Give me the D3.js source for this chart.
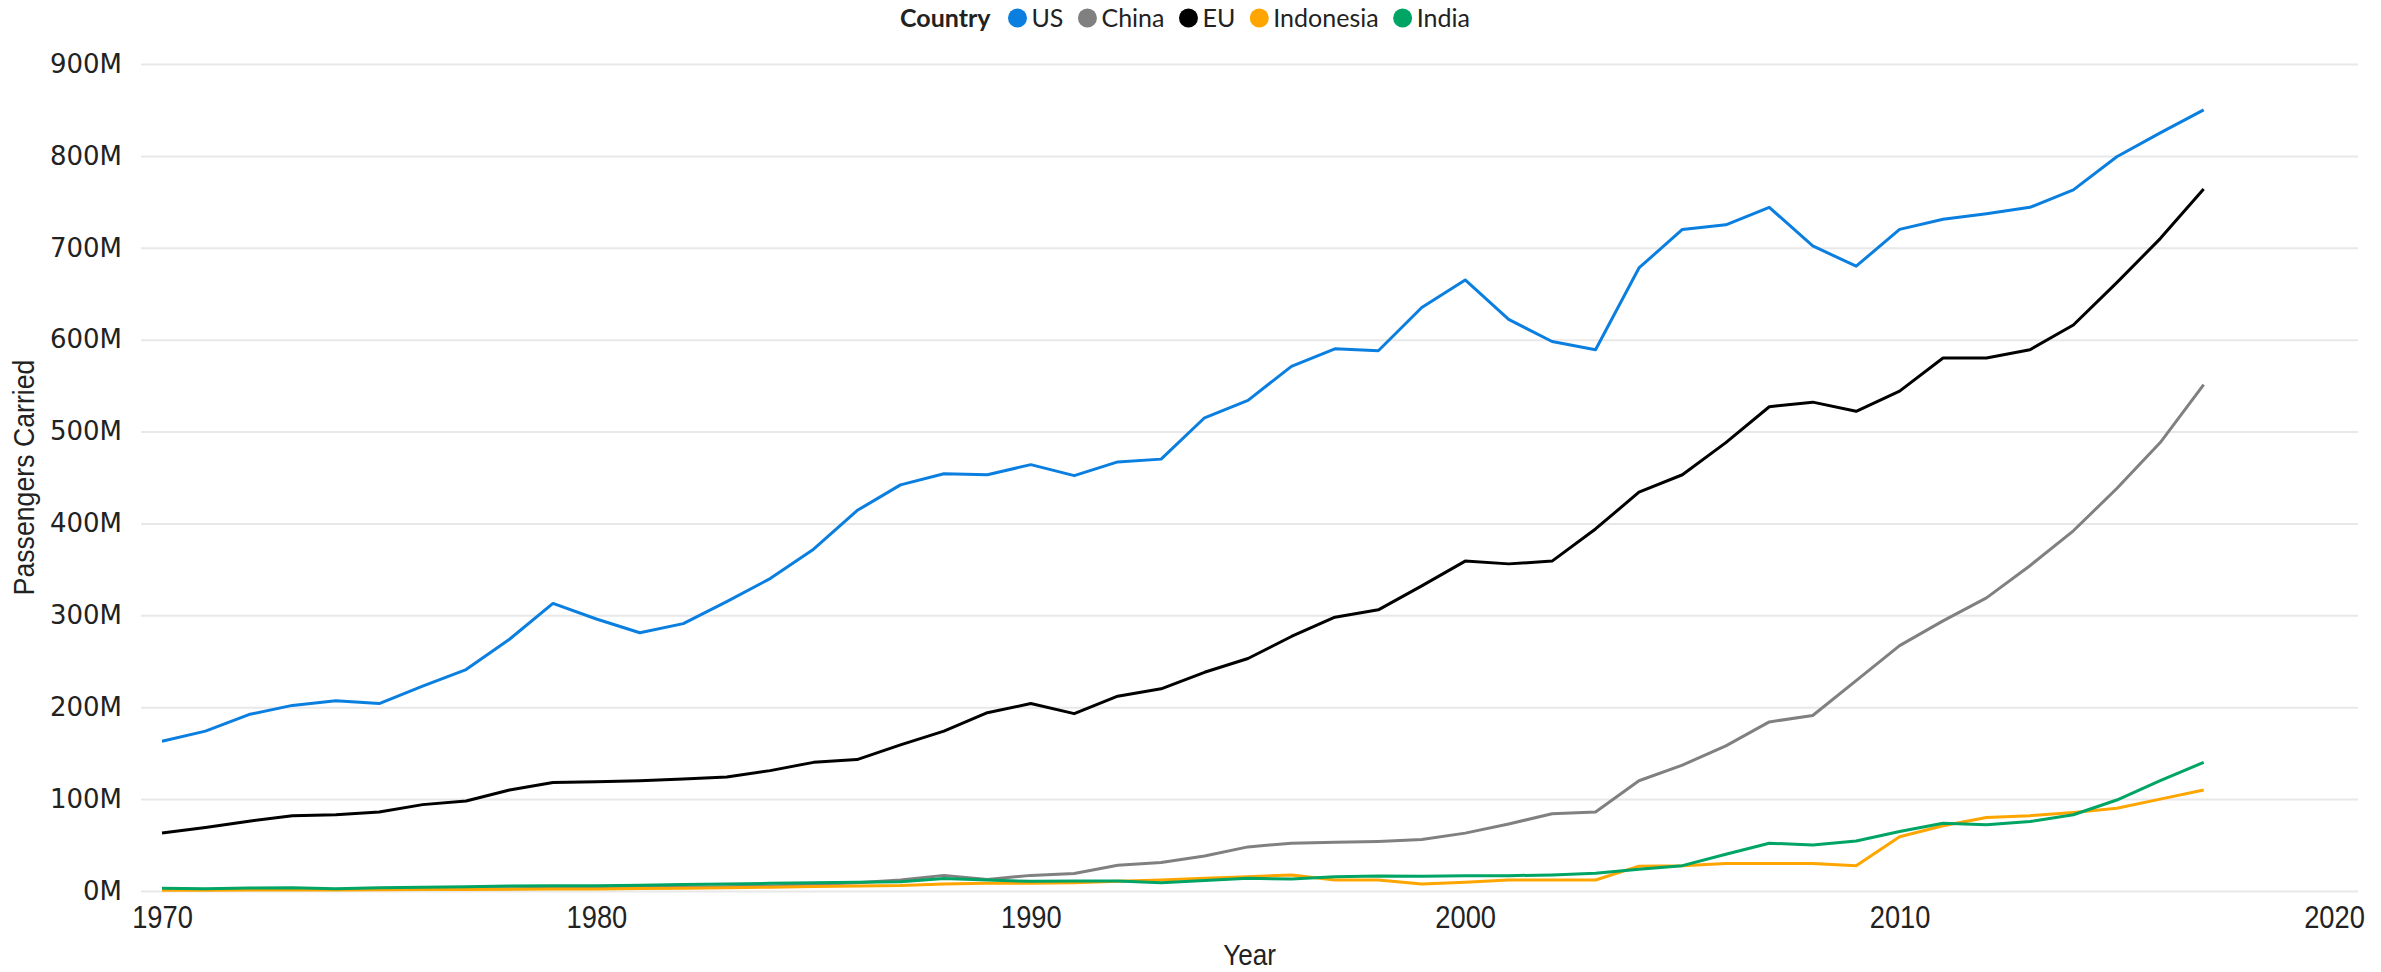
<!DOCTYPE html>
<html lang="en">
<head>
    <meta charset="UTF-8">
    <title>Passengers Carried by Country</title>
    <script type="text/javascript" src="https://cdn.jsdelivr.net/npm/d3@7/dist/d3.min.js"></script>
    <style type="text/css">
        body { margin: 0; background: #fff; }
        .ytick text { font-family: "DejaVu Sans", sans-serif; font-size: 26px; fill: #222; }
        .xtick text { font-family: "Liberation Sans", sans-serif; font-size: 31px; fill: #222; }
        .title { font-family: "Liberation Sans", sans-serif; font-size: 29px; fill: #222; }
        .legend text { font-family: Lato, "Noto Sans", sans-serif; font-size: 25px; fill: #222; }
    </style>
</head>
<body>
<script type="text/javascript">

    //Width and height
    var w = 2381;
    var h = 972;

    var years = d3.range(1970, 2018);   // 1970..2017
    var countries = ["US", "China", "EU", "Indonesia", "India"];
    var colors = ["#0a7fe0", "#808080", "#000000", "#ffa500", "#00a465"];

    // passengers carried, millions
    var us = [163, 174, 192, 202, 207, 204, 223, 241, 274, 313,
        296, 281, 291, 315, 340, 372, 414, 442, 454, 453,
        464, 452, 467, 470, 515, 534, 571, 590, 588, 635,
        665, 622, 598, 589, 678, 720, 725, 744, 702, 680,
        720, 731, 737, 744, 763, 799, 825, 850];
    var china = [null, null, null, null, 1.5, 2, 2, 2.5, 2.5, 3,
        3, 4, 4, 4.5, 5.5, 7, 9, 12, 17, 12.5,
        17, 19, 28, 31, 38, 48, 52, 53, 54, 56,
        63, 73, 84, 86, 120, 137, 158, 184, 191, 229,
        267, 294, 319, 354, 392, 438, 488, 551];
    var eu = [63, 69, 76, 82, 83, 86, 94, 98, 110, 118,
        119, 120, 122, 124, 131, 140, 143, 159, 174, 194,
        204, 193, 212, 220, 238, 253, 277, 298, 306, 332,
        359, 356, 359, 394, 434, 453, 488, 527, 532, 522,
        544, 580, 580, 589, 616, 662, 710, 764];
    var indonesia = [0.8, 0.9, 1, 1.1, 1.2, 1.3, 1.5, 1.7, 1.9, 2.1,
        2.3, 2.6, 3, 3.5, 4.2, 5, 5.5, 6, 7.6, 8.4,
        8.4, 9, 10.5, 12, 14, 15.6, 17.5, 12, 12, 7.6,
        9.5, 12, 12, 12, 27, 27.6, 30, 30, 30, 27.6,
        59, 71, 80, 82, 85.5, 90, 100, 110];
    var india = [3, 2.5, 3.3, 3.6, 2.5, 3.6, 4, 4.7, 5.5, 5.8,
        5.8, 6.2, 7, 7.6, 8.4, 9, 9.5, 10, 13.5, 12,
        10.5, 11, 11, 9, 11.3, 13.8, 13, 15.6, 16.4, 16,
        16.7, 16.7, 17.5, 19.3, 23.6, 27.6, 40, 52, 50, 54.5,
        64.7, 73.8, 72, 75.6, 83, 99, 120, 140];
    var series = [us, china, eu, indonesia, india];

    var yTicks = [0, 100, 200, 300, 400, 500, 600, 700, 800, 900];
    var xTicks = [1970, 1980, 1990, 2000, 2010, 2020];

    //Create SVG element
    var svg = d3.select("body")
        .append("svg")
        .attr("width", w)
        .attr("height", h);

    var x = d3.scaleLinear().domain([1970, 2020]).range([162, 2334]);
    var y = d3.scaleLinear().domain([0, 900]).range([891, 64]);
    var gridLeft = 141, gridRight = 2358;

    //gridlines + y labels
    var yAxis = svg.append("g")
        .attr("class", "ytick")
        .attr("transform", "translate(" + gridLeft + ",0)")
        .call(d3.axisLeft(y).tickValues(yTicks)
            .tickSize(-(gridRight - gridLeft))
            .tickPadding(19)
            .tickFormat(function(d) { return d + "M"; }));
    yAxis.select(".domain").remove();
    yAxis.selectAll("line").attr("stroke", "#e8e8e8").attr("stroke-width", 2);

    //x labels (squeezed a bit, the original font is condensed)
    var xAxis = svg.append("g")
        .attr("class", "xtick")
        .attr("transform", "translate(0,891)")
        .call(d3.axisBottom(x).tickValues(xTicks).tickSize(0).tickPadding(15)
            .tickFormat(d3.format("d")));
    xAxis.select(".domain").remove();
    xAxis.selectAll("text").attr("transform", "scale(0.88,1)");

    //axis titles
    svg.append("text")
        .attr("class", "title")
        .attr("transform", "translate(" + ((gridLeft + gridRight) / 2) + ",965) scale(0.9,1)")
        .attr("text-anchor", "middle")
        .text("Year");
    svg.append("text")
        .attr("class", "title")
        .attr("transform", "translate(34," + ((64 + 891) / 2) + ") rotate(-90) scale(0.92,1)")
        .attr("text-anchor", "middle")
        .text("Passengers Carried");

    //lines
    var line = d3.line()
        .defined(function(d) { return d != null; })
        .x(function(d, i) { return x(years[i]); })
        .y(function(d) { return y(d); });

    svg.selectAll("path.series")
        .data(series)
        .enter()
        .append("path")
        .attr("class", "series")
        .attr("fill", "none")
        .attr("stroke", function(d, i) { return colors[i]; })
        .attr("stroke-width", 3)
        .attr("stroke-linejoin", "round")
        .attr("d", line);

    //legend
    var legend = svg.append("g").attr("class", "legend");
    var lx = 900, ly = 18;
    var head = legend.append("text")
        .attr("x", lx).attr("y", ly)
        .attr("dy", "0.35em")
        .attr("font-weight", "bold")
        .text("Country");
    lx += head.node().getComputedTextLength() + 27;
    countries.forEach(function(c, i) {
        legend.append("circle")
            .attr("cx", lx).attr("cy", ly).attr("r", 9.5)
            .attr("fill", colors[i]);
        var t = legend.append("text")
            .attr("x", lx + 14).attr("y", ly)
            .attr("dy", "0.35em")
            .text(c);
        lx += 14 + t.node().getComputedTextLength() + 24;
    });
</script>
</body>
</html>
